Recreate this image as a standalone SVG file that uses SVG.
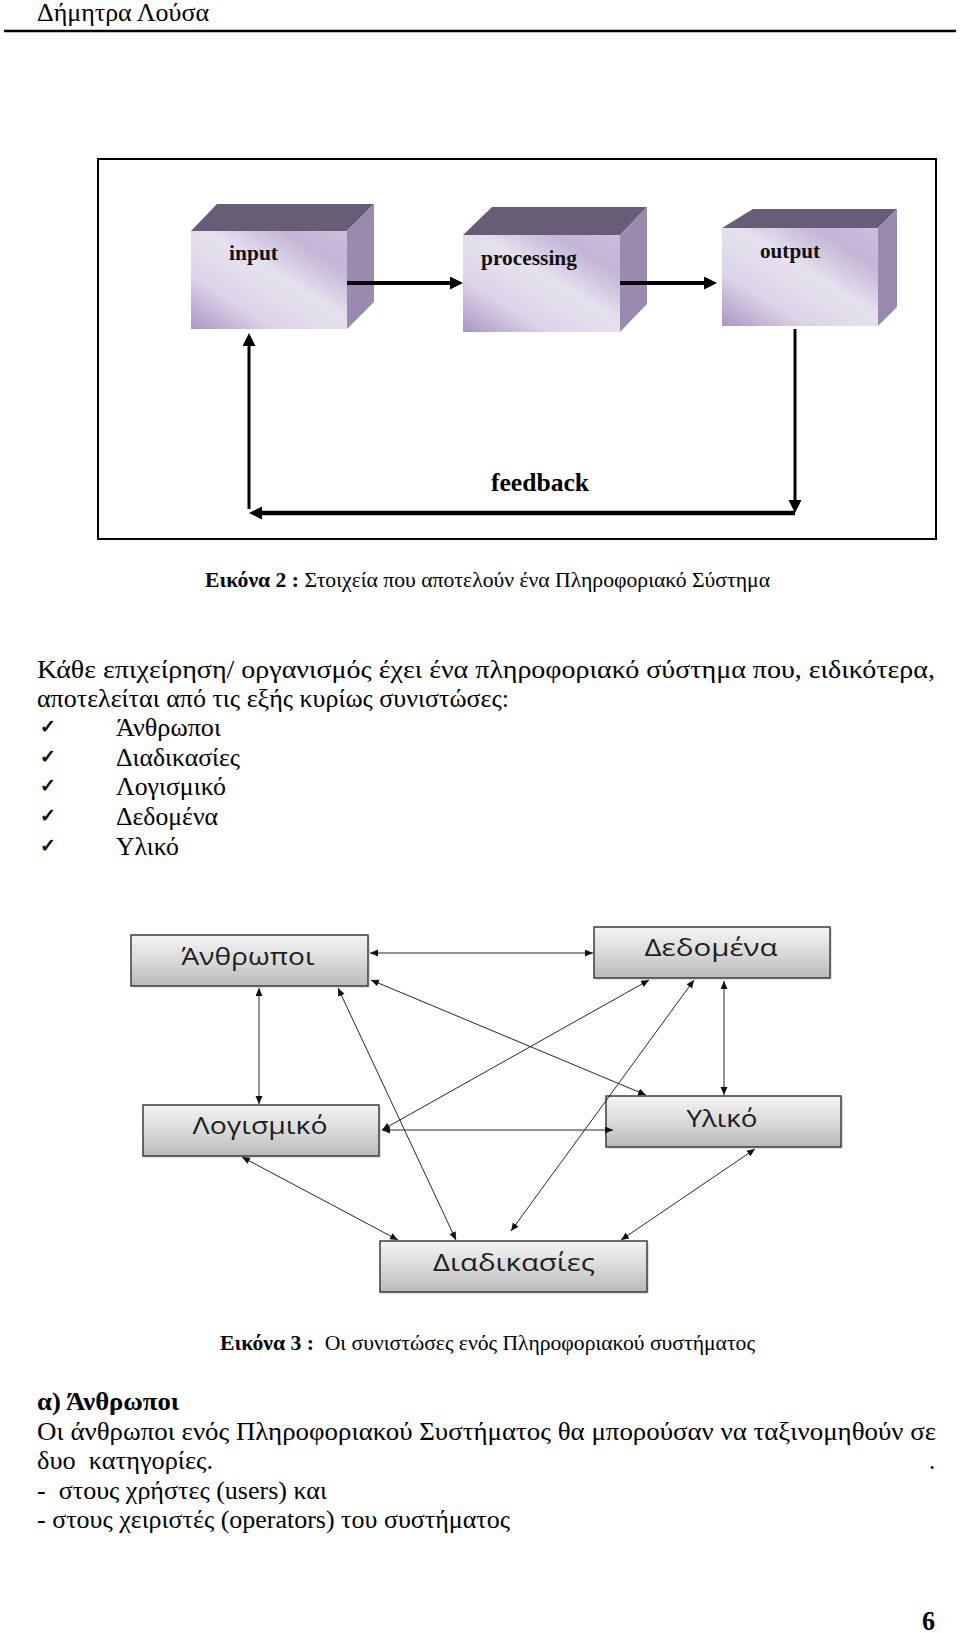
<svg xmlns="http://www.w3.org/2000/svg" width="960" height="1633" viewBox="0 0 960 1633">
<style>
.serif{font-family:"Liberation Serif","DejaVu Serif",serif;fill:#000}
.body{font-size:25px}
.cap{font-size:20px}
.blbl{font-family:"Liberation Serif","DejaVu Serif",serif;font-weight:bold;font-size:21px;fill:#111}
.chk{font-family:"DejaVu Sans",sans-serif;font-size:19px;fill:#000;stroke:#000;stroke-width:0.7}
.nlbl{font-family:"Open Sans","Noto Sans",sans-serif;font-size:24px;fill:#1e1e1e;text-anchor:middle}
.top{fill:#675d77}
.side{fill:#9a8bae}
.front{fill:url(#gFront)}
.gbox{fill:url(#gGray);stroke:#3c3c3c;stroke-width:1.5}
.shadow{fill:#000;opacity:0.12}
.thick{stroke:#000;fill:none}
.thin{stroke:#262626;stroke-width:1;fill:none;marker-start:url(#ah);marker-end:url(#ah)}
</style>
<defs>
<linearGradient id="gFront" x1="0" y1="1" x2="1" y2="0">
<stop offset="0" stop-color="#a996c3"/>
<stop offset="0.28" stop-color="#dcd5e8"/>
<stop offset="0.55" stop-color="#e6e1ee"/>
<stop offset="0.8" stop-color="#c2b5d6"/>
<stop offset="1" stop-color="#cbbfdb"/>
</linearGradient>
<linearGradient id="gGray" x1="0" y1="0" x2="0" y2="1">
<stop offset="0" stop-color="#f4f4f4"/>
<stop offset="0.5" stop-color="#dadada"/>
<stop offset="1" stop-color="#b9b9b9"/>
</linearGradient>
<marker id="big" markerUnits="userSpaceOnUse" markerWidth="14" markerHeight="14" refX="0" refY="6.5" orient="auto">
<path d="M0,0 L13,6.5 L0,13 z" fill="#000"/>
</marker>
<marker id="ah" markerUnits="userSpaceOnUse" markerWidth="10" markerHeight="8" refX="8" refY="3.5" orient="auto-start-reverse">
<path d="M0,0 L8,3.5 L0,7 z" fill="#111"/>
</marker>
</defs>
<rect width="960" height="1633" fill="#fff"/>

<!-- header -->
<text class="serif body" x="37" y="21" textLength="172" lengthAdjust="spacingAndGlyphs">Δήμητρα Λούσα</text>
<line x1="4" y1="31" x2="956" y2="31" stroke="#000" stroke-width="2.5"/>

<!-- figure 2 -->
<rect x="98" y="159" width="838" height="380" fill="#fff" stroke="#000" stroke-width="2"/>

<g id="n-input">
<polygon class="top" points="191,231 217,204 374,204 347,231"/>
<polygon class="side" points="347,231 374,204 374,302 347,329"/>
<rect class="front" x="191" y="231" width="156" height="98"/>
<text class="blbl" x="229" y="260" textLength="49" lengthAdjust="spacingAndGlyphs">input</text>
</g>
<g id="n-processing">
<polygon class="top" points="463,235 492,207 647,207 620,235"/>
<polygon class="side" points="620,235 647,207 647,304 620,332"/>
<rect class="front" x="463" y="235" width="157" height="97"/>
<text class="blbl" x="481" y="265" textLength="96" lengthAdjust="spacingAndGlyphs">processing</text>
</g>
<g id="n-output">
<polygon class="top" points="722,228 753,209 897,209 878,228"/>
<polygon class="side" points="878,228 897,209 897,307 878,326"/>
<rect class="front" x="722" y="228" width="156" height="98"/>
<text class="blbl" x="760" y="258" textLength="60" lengthAdjust="spacingAndGlyphs">output</text>
</g>
<text class="serif" x="491" y="491" font-size="25" font-weight="bold" textLength="98" lengthAdjust="spacingAndGlyphs">feedback</text>

<g id="connectors-fig2">
<line class="thick" stroke-width="4" x1="347" y1="283" x2="450" y2="283" marker-end="url(#big)"/>
<line class="thick" stroke-width="4" x1="620" y1="283" x2="704" y2="283" marker-end="url(#big)"/>
<line class="thick" stroke-width="3" x1="795" y1="329" x2="795" y2="500" marker-end="url(#big)"/>
<line class="thick" stroke-width="4.5" x1="795" y1="513" x2="262" y2="513" marker-end="url(#big)"/>
<line class="thick" stroke-width="3" x1="249" y1="509" x2="249" y2="346" marker-end="url(#big)"/>
</g>

<!-- caption 2 -->
<text class="serif cap" x="205" y="587" textLength="565" lengthAdjust="spacingAndGlyphs"><tspan font-weight="bold">Εικόνα 2 :</tspan> Στοιχεία που αποτελούν ένα Πληροφοριακό Σύστημα</text>

<!-- paragraph -->
<text class="serif body" x="37" y="678" textLength="898" lengthAdjust="spacingAndGlyphs">Κάθε επιχείρηση/ οργανισμός έχει ένα πληροφοριακό σύστημα που, ειδικότερα,</text>
<text class="serif body" x="37" y="707" textLength="472" lengthAdjust="spacingAndGlyphs">αποτελείται από τις εξής κυρίως συνιστώσες:</text>
<text class="chk" x="40" y="733">✓</text>
<text class="serif body" x="116" y="736" textLength="105" lengthAdjust="spacingAndGlyphs">Άνθρωποι</text>
<text class="chk" x="40" y="763">✓</text>
<text class="serif body" x="116" y="766" textLength="124" lengthAdjust="spacingAndGlyphs">Διαδικασίες</text>
<text class="chk" x="40" y="792">✓</text>
<text class="serif body" x="116" y="795" textLength="110" lengthAdjust="spacingAndGlyphs">Λογισμικό</text>
<text class="chk" x="40" y="822">✓</text>
<text class="serif body" x="116" y="825" textLength="102" lengthAdjust="spacingAndGlyphs">Δεδομένα</text>
<text class="chk" x="40" y="852">✓</text>
<text class="serif body" x="116" y="855" textLength="63" lengthAdjust="spacingAndGlyphs">Υλικό</text>

<!-- figure 3 -->
<g id="n-anthropoi">
<rect class="shadow" x="133" y="937" width="237" height="51"/>
<rect class="gbox" x="131" y="935" width="237" height="51"/>
<text class="nlbl" x="248" y="965" textLength="133" lengthAdjust="spacingAndGlyphs">Άνθρωποι</text>
</g>
<g id="n-dedomena">
<rect class="shadow" x="596" y="929" width="236" height="51"/>
<rect class="gbox" x="594" y="927" width="236" height="51"/>
<text class="nlbl" x="711" y="956" textLength="133" lengthAdjust="spacingAndGlyphs">Δεδομένα</text>
</g>
<g id="n-logismiko">
<rect class="shadow" x="145" y="1107" width="236" height="51"/>
<rect class="gbox" x="143" y="1105" width="236" height="51"/>
<text class="nlbl" x="260" y="1134" textLength="135" lengthAdjust="spacingAndGlyphs">Λογισμικό</text>
</g>
<g id="n-yliko">
<rect class="shadow" x="608" y="1098" width="235" height="51"/>
<rect class="gbox" x="606" y="1096" width="235" height="51"/>
<text class="nlbl" x="722" y="1127" textLength="71" lengthAdjust="spacingAndGlyphs">Υλικό</text>
</g>
<g id="n-diadikasies">
<rect class="shadow" x="382" y="1243" width="267" height="51"/>
<rect class="gbox" x="380" y="1241" width="267" height="51"/>
<text class="nlbl" x="514" y="1271" textLength="162" lengthAdjust="spacingAndGlyphs">Διαδικασίες</text>
</g>

<g id="connectors-fig3">
<line class="thin" x1="370" y1="953" x2="593" y2="953"/>
<line class="thin" x1="259" y1="988" x2="259" y2="1104"/>
<line class="thin" x1="724" y1="981" x2="724" y2="1095"/>
<line class="thin" x1="382" y1="1130" x2="613" y2="1130"/>
<line class="thin" x1="371" y1="980" x2="646" y2="1095"/>
<line class="thin" x1="649" y1="980" x2="382" y2="1130"/>
<line class="thin" x1="694" y1="980" x2="511" y2="1231"/>
<line class="thin" x1="338" y1="988" x2="456" y2="1240"/>
<line class="thin" x1="242" y1="1157" x2="398" y2="1240"/>
<line class="thin" x1="755" y1="1149" x2="621" y2="1240"/>
</g>

<text class="serif cap" x="220" y="1350" textLength="535" lengthAdjust="spacingAndGlyphs" xml:space="preserve"><tspan font-weight="bold">Εικόνα 3 :</tspan>  Οι συνιστώσες ενός Πληροφοριακού συστήματος</text>

<!-- section a -->
<text class="serif body" x="37" y="1410" font-weight="bold" textLength="142" lengthAdjust="spacingAndGlyphs">α) Άνθρωποι</text>
<text class="serif body" x="37" y="1440" textLength="899" lengthAdjust="spacingAndGlyphs">Οι άνθρωποι ενός Πληροφοριακού Συστήματος θα μπορούσαν να ταξινομηθούν σε</text>
<text class="serif body" x="37" y="1469" textLength="176" lengthAdjust="spacingAndGlyphs" xml:space="preserve">δυο  κατηγορίες.</text>
<text class="serif body" x="929" y="1469">.</text>
<text class="serif body" x="37" y="1499" textLength="290" lengthAdjust="spacingAndGlyphs" xml:space="preserve">-  στους χρήστες (users) και</text>
<text class="serif body" x="37" y="1528" textLength="473" lengthAdjust="spacingAndGlyphs">- στους χειριστές (operators) του συστήματος</text>

<text class="serif" x="922" y="1630" font-size="28" font-weight="bold" textLength="13" lengthAdjust="spacingAndGlyphs">6</text>
</svg>
